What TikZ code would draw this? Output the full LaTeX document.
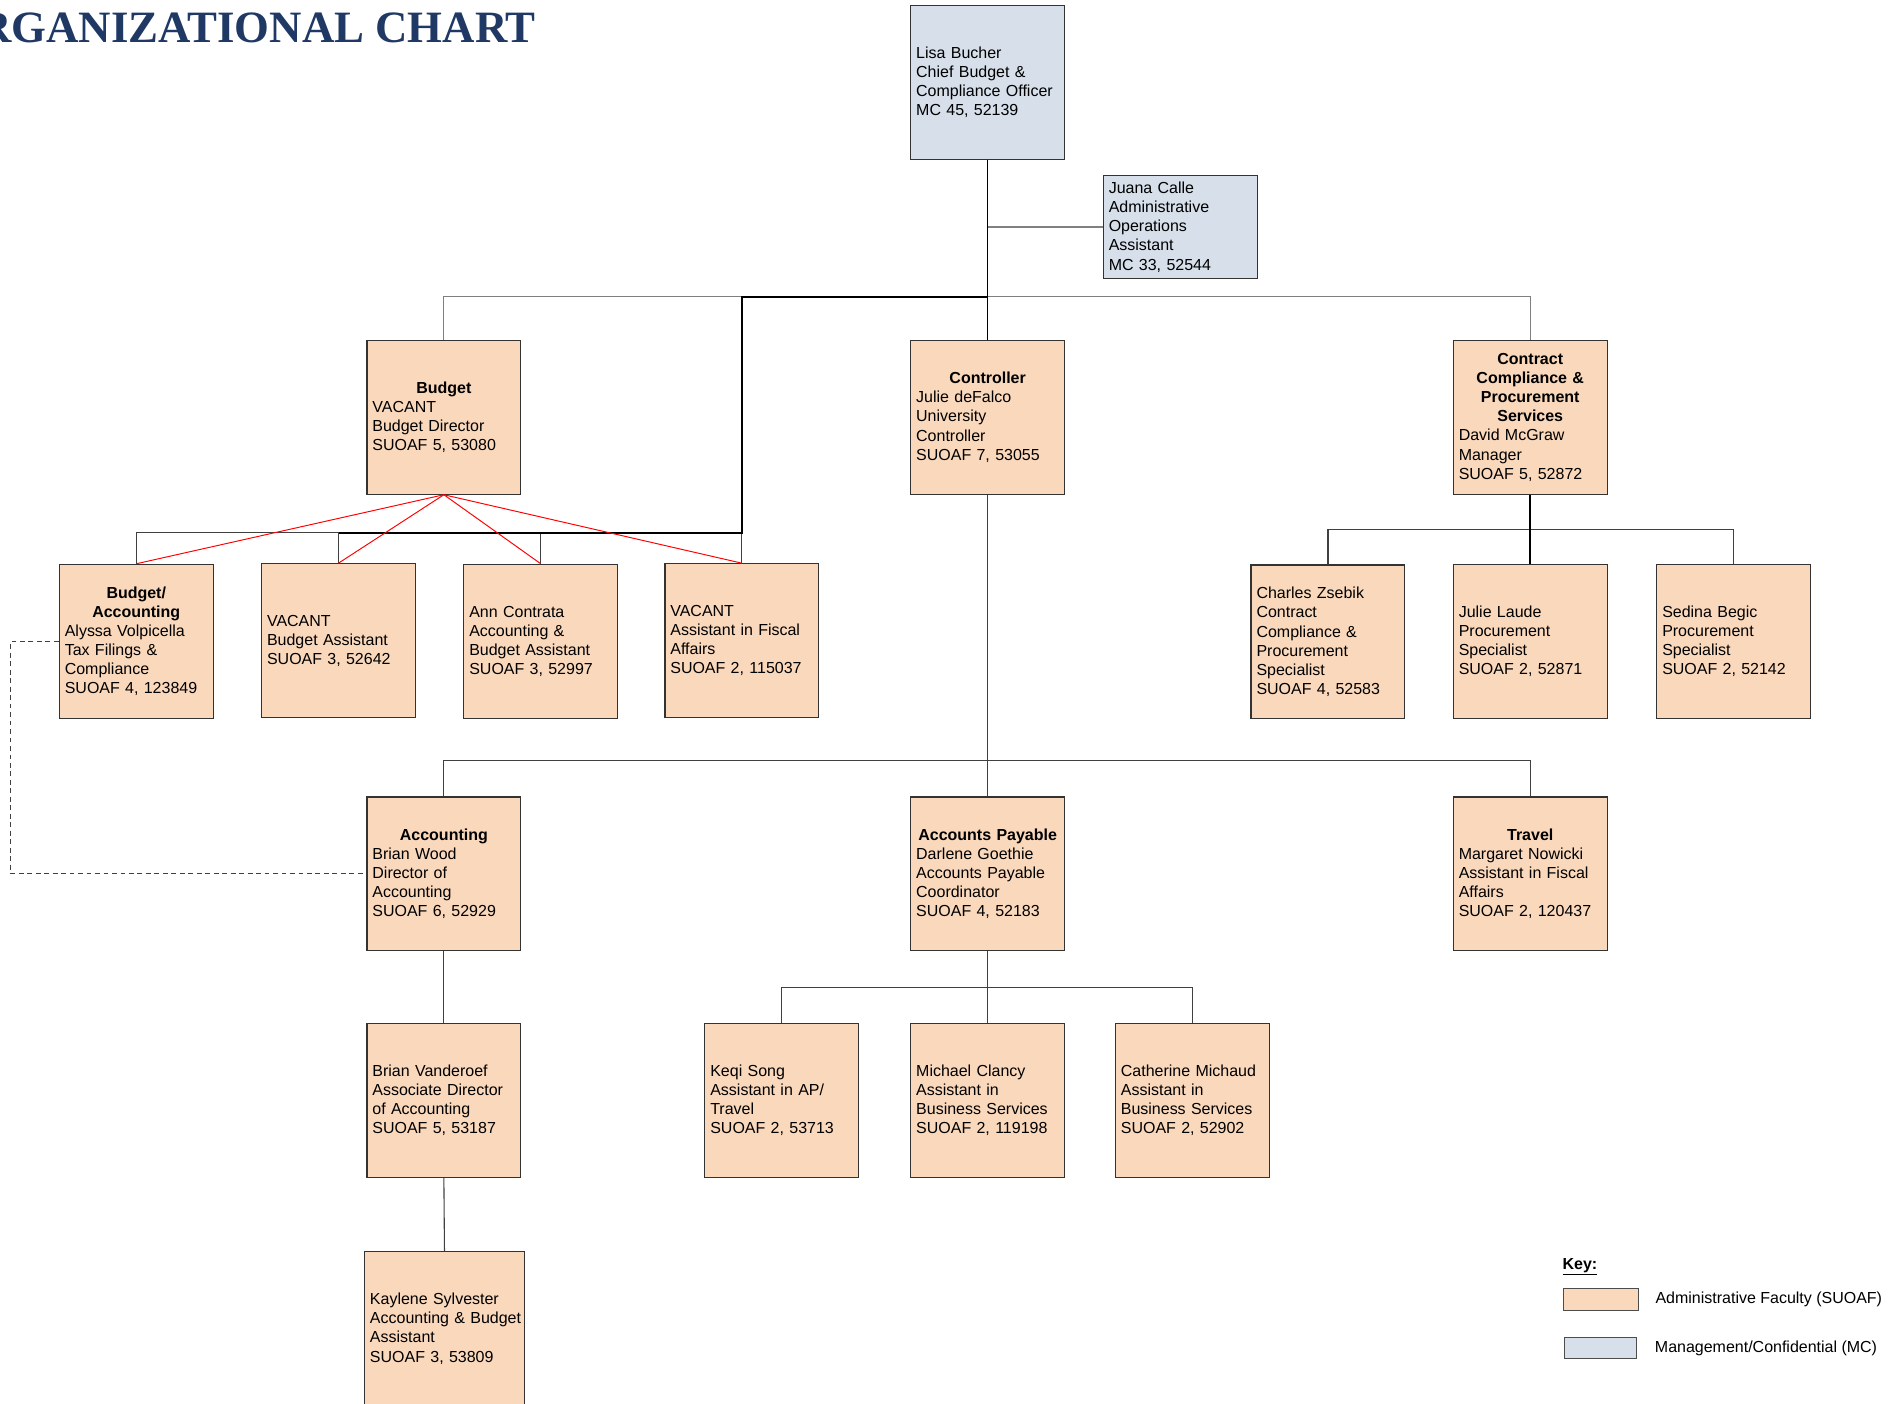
\documentclass[tikz,border=0pt]{standalone}
\usepackage{fontspec}
\setmainfont{Liberation Sans}
\newfontfamily\titlefont{Liberation Serif}
\usetikzlibrary{positioning}

\definecolor{suoaf}{RGB}{250,216,188}
\definecolor{mgmt}{RGB}{214,223,234}
\definecolor{navy}{RGB}{31,56,100}
\newcommand{\hd}[1]{\makebox[\linewidth][c]{\bfseries #1}}

\begin{document}
\begin{tikzpicture}[x=1pt, y=-1pt,
    box/.style={rectangle, draw=black!80, line width=1pt, fill=suoaf,
        minimum width=127pt, minimum height=127pt, text width=118pt,
        inner sep=4.5pt, align=left, font=\fontsize{13.2}{15.8}\selectfont},
    mc/.style={box, fill=mgmt},
    link/.style={draw=black!75, line width=0.9pt},
    bus/.style={draw=black!50, line width=1pt},
    main/.style={draw=black, line width=1.6pt},
    redline/.style={draw=red, line width=0.8pt},
    keybox/.style={draw=black!70, line width=0.9pt, minimum height=18pt, inner sep=0pt},
    keytext/.style={font=\fontsize{13.2}{15.8}\selectfont}]

    \useasboundingbox (0,0) rectangle (1568,1158.5);

    % Title
    \node[anchor=base east, text=navy, font=\titlefont\bfseries\fontsize{37}{40}\selectfont] (title) at (446,35) {ORGANIZATIONAL CHART};

    % Top
    \node[mc] (lisa) at (815.5,68) {Lisa Bucher\\Chief Budget \&\\Compliance Officer\\MC 45, 52139};
    \node[mc, minimum height=85pt] (juana) at (974.5,187.5) {Juana Calle\\Administrative\\Operations\\Assistant\\MC 33, 52544};

    % Second level
    \node[box] (budget) at (366.5,344.5) {\hd{Budget}\\VACANT\\Budget Director\\SUOAF 5, 53080};
    \node[box] (ctrl) at (815.5,344.5) {\hd{Controller}\\Julie deFalco\\University\\Controller\\SUOAF 7, 53055};
    \node[box] (ccps) at (1263.5,344.5) {\hd{Contract}\\\hd{Compliance \&}\\\hd{Procurement}\\\hd{Services}\\David McGraw\\Manager\\SUOAF 5, 52872};

    % Budget staff
    \node[box] (bacc) at (112.5,529.5) {\hd{Budget/}\\\hd{Accounting}\\Alyssa Volpicella\\Tax Filings \&\\Compliance\\SUOAF 4, 123849};
    \node[box] (bast) at (279.5,529) {VACANT\\Budget Assistant\\SUOAF 3, 52642};
    \node[box] (ann) at (446.5,529.5) {Ann Contrata\\Accounting \&\\Budget Assistant\\SUOAF 3, 52997};
    \node[box] (fisc) at (612.5,529) {VACANT\\Assistant in Fiscal\\Affairs\\SUOAF 2, 115037};

    % Contract compliance staff
    \node[box] (zsebik) at (1096.5,530) {Charles Zsebik\\Contract\\Compliance \&\\Procurement\\Specialist\\SUOAF 4, 52583};
    \node[box] (laude) at (1263.5,529.5) {Julie Laude\\Procurement\\Specialist\\SUOAF 2, 52871};
    \node[box] (begic) at (1431.5,529.5) {Sedina Begic\\Procurement\\Specialist\\SUOAF 2, 52142};

    % Controller units
    \node[box] (acct) at (366.5,721.5) {\hd{Accounting}\\Brian Wood\\Director of\\Accounting\\SUOAF 6, 52929};
    \node[box] (ap) at (815.5,721.5) {\hd{Accounts Payable}\\Darlene Goethie\\Accounts Payable\\Coordinator\\SUOAF 4, 52183};
    \node[box] (travel) at (1263.5,721.5) {\hd{Travel}\\Margaret Nowicki\\Assistant in Fiscal\\Affairs\\SUOAF 2, 120437};

    % Lower staff
    \node[box] (vand) at (366.5,908.5) {Brian Vanderoef\\Associate Director\\of Accounting\\SUOAF 5, 53187};
    \node[box, minimum width=132pt, text width=123pt] (kay) at (367,1097) {Kaylene Sylvester\\\mbox{Accounting \& Budget}\\Assistant\\SUOAF 3, 53809};
    \node[box] (keqi) at (645.5,908.5) {Keqi Song\\Assistant in AP/\\Travel\\SUOAF 2, 53713};
    \node[box] (clancy) at (815.5,908.5) {Michael Clancy\\Assistant in\\Business Services\\SUOAF 2, 119198};
    \node[box] (michaud) at (984.5,908.5) {Catherine Michaud\\Assistant in\\Business Services\\SUOAF 2, 52902};

    % Connectors top
    \coordinate (top) at (815.5,245);
    \coordinate (low) at (612.5,440);
    \draw[bus] (juana.west) -- (juana.west -| lisa.south);
    \draw[bus] (budget.north) -- (budget.north |- top) -- (ccps.north |- top) -- (ccps.north);
    \draw[link, draw=black] (lisa.south) -- (ctrl.north);
    \draw[link] (bacc.north) -- (bacc.north |- low) -- (low) -- (fisc.north);
    \draw[link] (bast.north) -- (bast.north |- low);
    \draw[link] (ann.north) -- (ann.north |- low);
    \draw[main] (top) -- (top -| fisc.north) -- (low) -- (low -| bast.north);
    \foreach \n in {bacc,bast,ann,fisc}
        \draw[redline] (budget.south) -- (\n.north);

    % Connectors contract compliance
    \coordinate (ccbus) at (1263.5,437);
    \draw[link] (zsebik.north) -- (zsebik.north |- ccbus) -- (begic.north |- ccbus) -- (begic.north);
    \draw[link, draw=black, line width=1.3pt] (ccps.south) -- (laude.north);

    % Connectors controller
    \coordinate (cbus) at (815.5,628);
    \coordinate (apbus) at (815.5,815);
    \draw[link] (ctrl.south) -- (ap.north);
    \draw[link] (acct.north) -- (acct.north |- cbus) -- (travel.north |- cbus) -- (travel.north);
    \draw[link] (acct.south) -- (vand.north);
    \draw[link] (vand.south) -- (kay.north);
    \draw[link] (ap.south) -- (clancy.north);
    \draw[link] (keqi.north) -- (keqi.north |- apbus) -- (michaud.north |- apbus) -- (michaud.north);

    % Dashed link
    \coordinate (dl) at (9,530);
    \draw[link, dash pattern=on 4pt off 3pt] (bacc.west) -- (bacc.west -| dl) -- (dl |- acct.west) -- (acct.west);

    % Key
    \node[keytext, anchor=west, inner sep=0pt] (keyttl) at (1290,1046) {\bfseries\underline{Key:}};
    \node[keybox, fill=suoaf, minimum width=62pt] (keya) at (1322,1073) {};
    \node[keytext, right=10pt of keya] (keyatxt) {Administrative Faculty (SUOAF)};
    \node[keybox, fill=mgmt, minimum width=59pt] (keyb) at (1321.5,1113) {};
    \node[keytext, right=11.5pt of keyb] (keybtxt) {Management/Confidential (MC)};
\end{tikzpicture}
\end{document}
